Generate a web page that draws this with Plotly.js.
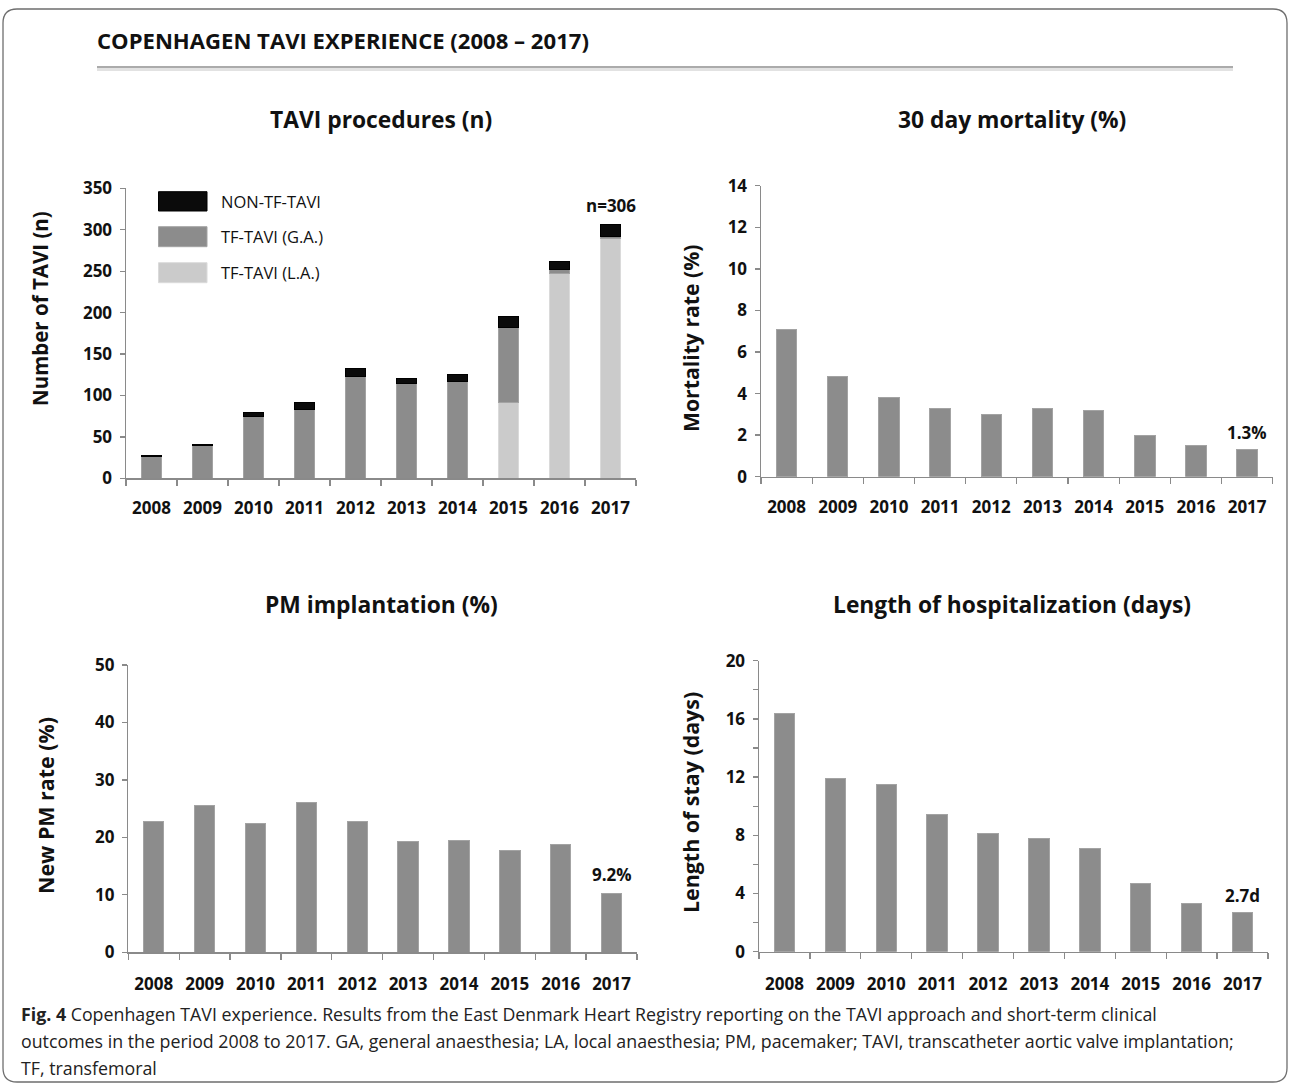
<!DOCTYPE html>
<html><head><meta charset="utf-8">
<script src="https://cdn.plot.ly/plotly-3.0.1.min.js"></script>
<style>html,body{margin:0;padding:0;background:#fff}#chart{width:1290px;height:1086px}</style>
</head><body><div id="chart"></div>
<script>
// ---- data ----
const years = ['2008','2009','2010','2011','2012','2013','2014','2015','2016','2017'];
const seriesNames = ['NON-TF-TAVI','TF-TAVI (G.A.)','TF-TAVI (L.A.)'];
const tfLA  = [0, 0, 0, 0, 0, 0, 0, 92, 247, 289];
const tfGA  = [26, 39, 74, 83, 123, 114, 117, 90, 5, 3];
const nonTF = [1, 2, 5, 8, 10, 7, 8, 13, 10, 14];
const mortality = [7.1, 4.8, 3.8, 3.3, 3.0, 3.3, 3.2, 2.0, 1.5, 1.3];
const pmRate = [22.7, 25.6, 22.5, 26.0, 22.8, 19.2, 19.4, 17.8, 18.8, 10.2];
const lengthOfStay = [16.4, 11.9, 11.5, 9.4, 8.1, 7.8, 7.1, 4.7, 3.3, 2.7];
const panelTitles = ['TAVI procedures (n)','30 day mortality (%)','PM implantation (%)','Length of hospitalization (days)'];
const axisTitles = ['Number of TAVI (n)','Mortality rate (%)','New PM rate (%)','Length of stay (days)'];
const endLabels = ['n=306','1.3%','9.2%','2.7d'];
const mainTitle = 'COPENHAGEN TAVI EXPERIENCE (2008 – 2017)';
const captionLines = [
 '<b>Fig. 4</b> Copenhagen TAVI experience. Results from the East Denmark Heart Registry reporting on the TAVI approach and short-term clinical',
 'outcomes in the period 2008 to 2017. GA, general anaesthesia; LA, local anaesthesia; PM, pacemaker; TAVI, transcatheter aortic valve implantation;',
 'TF, transfemoral'
];

// ---- helpers ----
const W = 1290, H = 1086;
const px = x => x / W, py = y => 1 - y / H;
const FONT = 'Open Sans, Noto Sans, sans-serif';
const GA_C = '#8c8c8c', LA_C = '#cbcbcb', NON_C = '#0b0b0b';
const totals = years.map((_, i) => tfLA[i] + tfGA[i] + nonTF[i]);

function bar(y, color, xa, ya, name, lineColor) {
  return {type: 'bar', x: years, y: y, name: name, xaxis: xa, yaxis: ya,
    marker: {color: color, line: {color: lineColor || '#a3a3a3', width: 1}},
    hoverinfo: 'x+y', showlegend: false};
}

const data = [
  bar(tfLA, LA_C, 'x', 'y', seriesNames[2], '#dadada'),
  bar(tfGA, GA_C, 'x', 'y', seriesNames[1]),
  bar(nonTF, NON_C, 'x', 'y', seriesNames[0], '#000'),
  bar(mortality, GA_C, 'x2', 'y2', axisTitles[1]),
  bar(pmRate, GA_C, 'x3', 'y3', axisTitles[2]),
  bar(lengthOfStay, GA_C, 'x4', 'y4', axisTitles[3])
];

const AX = '#8a8a8a';
function xAxis(domain, anchor, standoff) {
  return {domain: domain, anchor: anchor, type: 'category', tickson: 'boundaries',
    range: [-0.5, years.length - 0.5], autorange: false, tickangle: 0,
    ticks: 'outside', ticklen: 6, tickcolor: AX, tickwidth: 1.3,
    showline: true, linecolor: AX, linewidth: 1.5, showgrid: false, zeroline: false,
    ticklabelstandoff: standoff, fixedrange: true,
    tickfont: {family: FONT, size: 17, color: '#111', weight: 'bold'}};
}
function yAxis(domain, anchor, range, dtick, minor) {
  const a = {domain: domain, anchor: anchor, range: range, autorange: false, dtick: dtick, tick0: 0,
    ticks: 'outside', ticklen: 5, tickcolor: AX, tickwidth: 1.3,
    showline: true, linecolor: AX, linewidth: 1.5, showgrid: false, zeroline: false,
    ticklabelstandoff: 4, fixedrange: true,
    tickfont: {family: FONT, size: 17, color: '#111', weight: 'bold'}};
  if (minor) a.minor = {dtick: minor, ticks: 'outside', ticklen: 5, tickcolor: AX, tickwidth: 1.3, showgrid: false};
  return a;
}

const layout = {
  width: W, height: H, margin: {l: 0, r: 0, t: 0, b: 0},
  paper_bgcolor: '#fff', plot_bgcolor: 'rgba(0,0,0,0)',
  barmode: 'stack', bargap: 0.6, showlegend: false,
  font: {family: FONT, color: '#111'},
  xaxis:  xAxis([px(126), px(636)], 'y', 14),
  yaxis:  yAxis([py(478.3), py(188.3)], 'x', [0, 350], 50),
  xaxis2: xAxis([px(761), px(1272.7)], 'y2', 14),
  yaxis2: yAxis([py(476.7), py(185.8)], 'x2', [0, 14], 2),
  xaxis3: xAxis([px(128.3), px(637)], 'y3', 16),
  yaxis3: yAxis([py(952.3), py(665)], 'x3', [0, 50], 10),
  xaxis4: xAxis([px(759), px(1268)], 'y4', 16),
  yaxis4: yAxis([py(951.7), py(660.7)], 'x4', [0, 20], 4, 2),
  shapes: [], annotations: []
};

// frame with rounded corners
(function () {
  const l = 3, t = 9, r = 1287, b = 1082, rad = 14;
  const P = (x, y) => px(x).toFixed(5) + ',' + py(y).toFixed(5);
  const path = 'M' + P(l, t + rad) + ' Q' + P(l, t) + ' ' + P(l + rad, t) +
    ' L' + P(r - rad, t) + ' Q' + P(r, t) + ' ' + P(r, t + rad) +
    ' L' + P(r, b - rad) + ' Q' + P(r, b) + ' ' + P(r - rad, b) +
    ' L' + P(l + rad, b) + ' Q' + P(l, b) + ' ' + P(l, b - rad) + ' Z';
  layout.shapes.push({type: 'path', xref: 'paper', yref: 'paper', path: path,
    line: {color: '#6e6e6e', width: 1.3}, fillcolor: 'rgba(0,0,0,0)', layer: 'below'});
})();
// title separator with faint shadow
layout.shapes.push({type: 'line', xref: 'paper', yref: 'paper', x0: px(97), x1: px(1233), y0: py(69.5), y1: py(69.5), line: {color: '#e2e2e2', width: 3}});
layout.shapes.push({type: 'line', xref: 'paper', yref: 'paper', x0: px(97), x1: px(1233), y0: py(67), y1: py(67), line: {color: '#8f8f8f', width: 1.5}});

// legend (swatches + labels)
const legColors = [NON_C, GA_C, LA_C];
const legY = [[191.7, 211], [226.7, 246.7], [262.7, 282.7]];
legColors.forEach((c, i) => {
  layout.shapes.push({type: 'rect', xref: 'paper', yref: 'paper', x0: px(158.5), x1: px(207), y0: py(legY[i][1]), y1: py(legY[i][0]),
    fillcolor: c, line: {color: i === 0 ? '#000' : (i === 1 ? '#a3a3a3' : '#dadada'), width: 1}});
  layout.annotations.push({xref: 'paper', yref: 'paper', x: px(219), y: py((legY[i][0] + legY[i][1]) / 2),
    xanchor: 'left', yanchor: 'middle', showarrow: false, text: seriesNames[i],
    font: {family: FONT, size: 16.5, color: '#111'}});
});

// main title
layout.annotations.push({xref: 'paper', yref: 'paper', x: px(95), y: py(40), xanchor: 'left', yanchor: 'middle',
  showarrow: false, text: '<b>' + mainTitle + '</b>', font: {family: FONT, size: 22.1, color: '#111'}});

// panel titles
const ptPos = [[381, 120], [1012, 120], [381, 604], [1012, 604]];
panelTitles.forEach((t, i) => layout.annotations.push({xref: 'paper', yref: 'paper', x: px(ptPos[i][0]), y: py(ptPos[i][1]),
  xanchor: 'center', yanchor: 'middle', showarrow: false, text: '<b>' + t + '</b>', font: {family: FONT, size: 22.8, color: '#111'}}));

// y-axis titles (rotated), placed as in the reference
const atPos = [[40, 309], [690, 338], [45, 806], [690, 802]];
const atSize = [20.5, 21.2, 21.4, 21.4];
axisTitles.forEach((t, i) => layout.annotations.push({xref: 'paper', yref: 'paper', x: px(atPos[i][0]), y: py(atPos[i][1]),
  xanchor: 'center', yanchor: 'middle', textangle: -90, showarrow: false, text: '<b>' + t + '</b>',
  font: {family: FONT, size: atSize[i], color: '#111'}}));

// end-of-series labels
const endVals = [totals[9], mortality[9], pmRate[9], lengthOfStay[9]];
const endShift = [6, 4, 6, 3];
['', '2', '3', '4'].forEach((s, i) => layout.annotations.push({xref: 'x' + s, yref: 'y' + s, x: years.length - 1, y: endVals[i],
  xanchor: 'center', yanchor: 'bottom', yshift: endShift[i], showarrow: false, text: '<b>' + endLabels[i] + '</b>',
  font: {family: FONT, size: 17, color: '#111'}}));

// caption
const capY = [1014, 1041, 1068];
captionLines.forEach((t, i) => layout.annotations.push({xref: 'paper', yref: 'paper', x: px(19), y: py(capY[i]),
  xanchor: 'left', yanchor: 'middle', showarrow: false, align: 'left', text: t, font: {family: FONT, size: 17.8, color: '#222'}}));

Plotly.newPlot('chart', data, layout, {staticPlot: true, displayModeBar: false});
</script>
</body></html>
